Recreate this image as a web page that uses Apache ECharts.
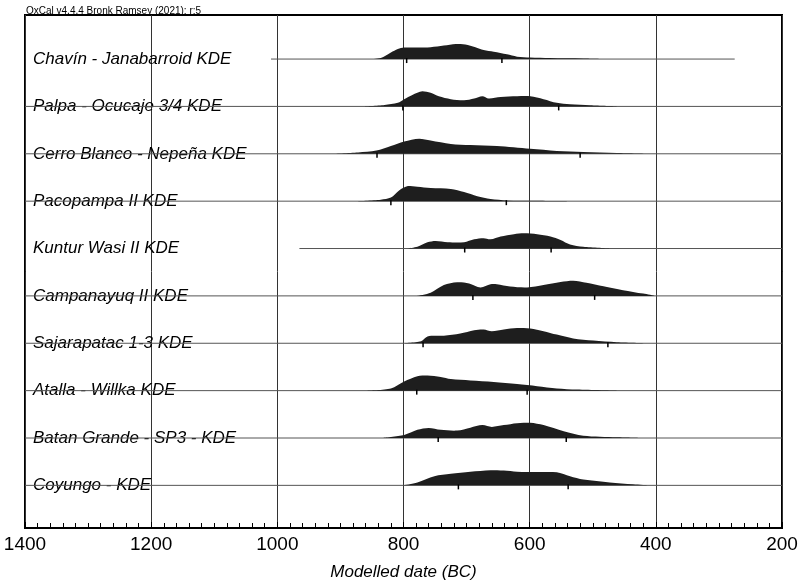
<!DOCTYPE html>
<html>
<head>
<meta charset="utf-8">
<script src="https://cdn.jsdelivr.net/npm/echarts@6/dist/echarts.min.js"></script>
<style>
html, body { margin: 0; padding: 0; background: #fff; }
#main { width: 802px; height: 583px; }
</style>
</head>
<body>
<div id="main"></div>
<script>
var FONT = '"Liberation Sans", Arial, Helvetica, sans-serif';

// row labels, top to bottom
var rowLabels = [
  'Chavín - Janabarroid KDE',
  'Palpa - Ocucaje 3/4 KDE',
  'Cerro Blanco - Nepeña KDE',
  'Pacopampa II KDE',
  'Kuntur Wasi II KDE',
  'Campanayuq II KDE',
  'Sajarapatac 1-3 KDE',
  'Atalla - Willka KDE',
  'Batan Grande - SP3 - KDE',
  'Coyungo - KDE'
];

// KDE outlines: [year BC, relative density]
var kdeChavin = [[854,0],[836,0.07],[820,0.44],[809,0.67],[799,0.76],[778,0.76],[757,0.78],[736,0.89],[717,1.0],[702,0.96],[686,0.78],[673,0.6],[657,0.49],[636,0.31],[620,0.16],[599,0.11],[568,0.07],[515,0.04],[478,0]];
var kdePalpa = [[864,0],[830,0.1],[809,0.24],[799,0.48],[786,0.76],[770,1.0],[757,0.9],[744,0.67],[725,0.48],[704,0.4],[688,0.52],[675,0.67],[665,0.52],[646,0.62],[620,0.67],[599,0.67],[578,0.48],[557,0.24],[536,0.14],[504,0.07],[462,0]];
var kdeCerroBlanco = [[914,0],[872,0.09],[843,0.21],[820,0.51],[799,0.81],[775,1.0],[757,0.88],[725,0.65],[694,0.58],[652,0.51],[599,0.33],[557,0.19],[515,0.12],[462,0.05],[410,0]];
var kdePacopampa = [[875,0],[836,0.1],[820,0.24],[807,0.71],[793,1.0],[778,0.95],[757,0.86],[725,0.81],[704,0.6],[683,0.33],[662,0.14],[636,0.05],[594,0.02],[541,0]];
var kdeKunturWasi = [[793,0],[778,0.11],[762,0.41],[749,0.5],[730,0.41],[704,0.41],[688,0.61],[673,0.68],[662,0.61],[646,0.8],[625,0.95],[609,1.0],[588,0.95],[567,0.8],[551,0.57],[536,0.27],[515,0.11],[473,0]];
var kdeCampanayuq = [[778,0],[757,0.21],[736,0.72],[715,0.9],[696,0.82],[678,0.56],[662,0.77],[652,0.77],[631,0.62],[604,0.56],[578,0.72],[551,0.92],[531,1.0],[510,0.87],[483,0.64],[452,0.38],[420,0.15],[402,0]];
var kdeSajarapatac = [[804,0],[772,0.14],[762,0.45],[736,0.5],[710,0.64],[688,0.86],[673,0.91],[660,0.8],[641,0.91],[620,1.0],[599,0.98],[578,0.8],[557,0.57],[531,0.32],[499,0.18],[462,0.07],[410,0]];
var kdeAtalla = [[857,0],[820,0.14],[799,0.6],[778,0.95],[762,1.0],[741,0.9],[725,0.76],[694,0.67],[657,0.57],[620,0.43],[588,0.29],[557,0.14],[525,0.07],[462,0]];
var kdeBatanGrande = [[833,0],[799,0.2],[778,0.54],[760,0.66],[741,0.54],[715,0.49],[694,0.68],[675,0.85],[660,0.73],[641,0.85],[620,0.98],[599,1.0],[578,0.85],[546,0.44],[515,0.15],[462,0.05],[420,0]];
var kdeCoyungo = [[801,0],[778,0.19],[751,0.6],[725,0.76],[694,0.9],[662,1.0],[641,0.98],[620,0.9],[588,0.88],[557,0.86],[536,0.6],[515,0.38],[473,0.19],[436,0.07],[410,0]];

var kdes = [kdeChavin, kdePalpa, kdeCerroBlanco, kdePacopampa, kdeKunturWasi,
            kdeCampanayuq, kdeSajarapatac, kdeAtalla, kdeBatanGrande, kdeCoyungo];

// thin line under each distribution [from, to] BC
var rangeLines = [[1010,275],[1400,200],[1400,200],[1400,200],[965,200],
                  [1400,200],[1400,200],[1400,200],[1400,200],[1400,200]];

// range marks [older, younger] BC
var rangeTicks = [[795,644],[801,554],[842,520],[820,637],[703,566],
                  [690,497],[769,476],[779,604],[745,542],[713,539]];

var rowTop = 9.9;   // baseline of first row in y units
var peakH = 0.32;   // height of a density peak in y units

function renderRow(params, api) {
  var i = api.value(2);
  var base = rowTop - i;
  var children = [];

  var lp = api.coord([1400, base]);
  children.push({
    type: 'text',
    style: {
      text: rowLabels[i], x: lp[0] + 8, y: lp[1],
      align: 'left', verticalAlign: 'middle',
      font: 'italic 17px ' + FONT, fill: '#000'
    }
  });

  var a = api.coord([rangeLines[i][0], base]);
  var b = api.coord([rangeLines[i][1], base]);
  children.push({
    type: 'line',
    shape: { x1: a[0], y1: a[1], x2: b[0], y2: b[1] },
    style: { stroke: '#555', lineWidth: 1 }
  });

  var pts = kdes[i].map(function (p) {
    return api.coord([p[0], base + p[1] * peakH]);
  });
  var xs = pts.map(function (p) { return p[0]; });
  var ys = pts.map(function (p) { return p[1]; });
  children.push({
    type: 'polygon',
    shape: {
      points: pts, smooth: 0.3,
      smoothConstraint: [[Math.min.apply(null, xs), Math.min.apply(null, ys)],
                         [Math.max.apply(null, xs), Math.max.apply(null, ys)]]
    },
    style: { fill: '#1e1e1e' }
  });

  rangeTicks[i].forEach(function (yr) {
    var t = api.coord([yr, base]);
    children.push({
      type: 'line',
      shape: { x1: t[0], y1: t[1] - 1, x2: t[0], y2: t[1] + 4 },
      style: { stroke: '#000', lineWidth: 1.5 }
    });
  });
  return { type: 'group', children: children };
}

var chart = echarts.init(document.getElementById('main'));
chart.setOption({
  animation: false,
  backgroundColor: '#fff',
  title: {
    text: 'OxCal v4.4.4 Bronk Ramsey (2021); r:5',
    left: 26, top: 6, padding: 0,
    textStyle: { fontSize: 10, fontWeight: 'normal', color: '#000', fontFamily: FONT }
  },
  grid: {
    left: 25, right: 20, top: 15, bottom: 55,
    outerBoundsMode: 'none',
    show: true, borderColor: '#000', borderWidth: 2
  },
  xAxis: {
    type: 'value', min: 200, max: 1400, interval: 200, inverse: true,
    axisLine: { show: true, onZero: false, lineStyle: { color: '#000', width: 2 } },
    axisTick: { show: true, inside: true, length: 6, lineStyle: { color: '#000' } },
    minorTick: { show: true, splitNumber: 10, length: 5, lineStyle: { color: '#000' } },
    splitLine: { show: true, lineStyle: { color: '#333', width: 1 } },
    axisLabel: {
      color: '#000', fontSize: 19, margin: 7, fontFamily: FONT,
      showMinLabel: true, showMaxLabel: true,
      formatter: function (v) { return String(v); }
    },
    name: 'Modelled date (BC)', nameLocation: 'middle', nameGap: 36,
    nameTextStyle: { color: '#000', fontSize: 17, fontStyle: 'italic', fontFamily: FONT }
  },
  yAxis: { type: 'value', min: 0, max: 10.83, show: false },
  series: [{
    type: 'custom',
    renderItem: renderRow,
    data: rowLabels.map(function (l, i) { return [1400, rowTop - i, i]; })
  }]
});
</script>
</body>
</html>
